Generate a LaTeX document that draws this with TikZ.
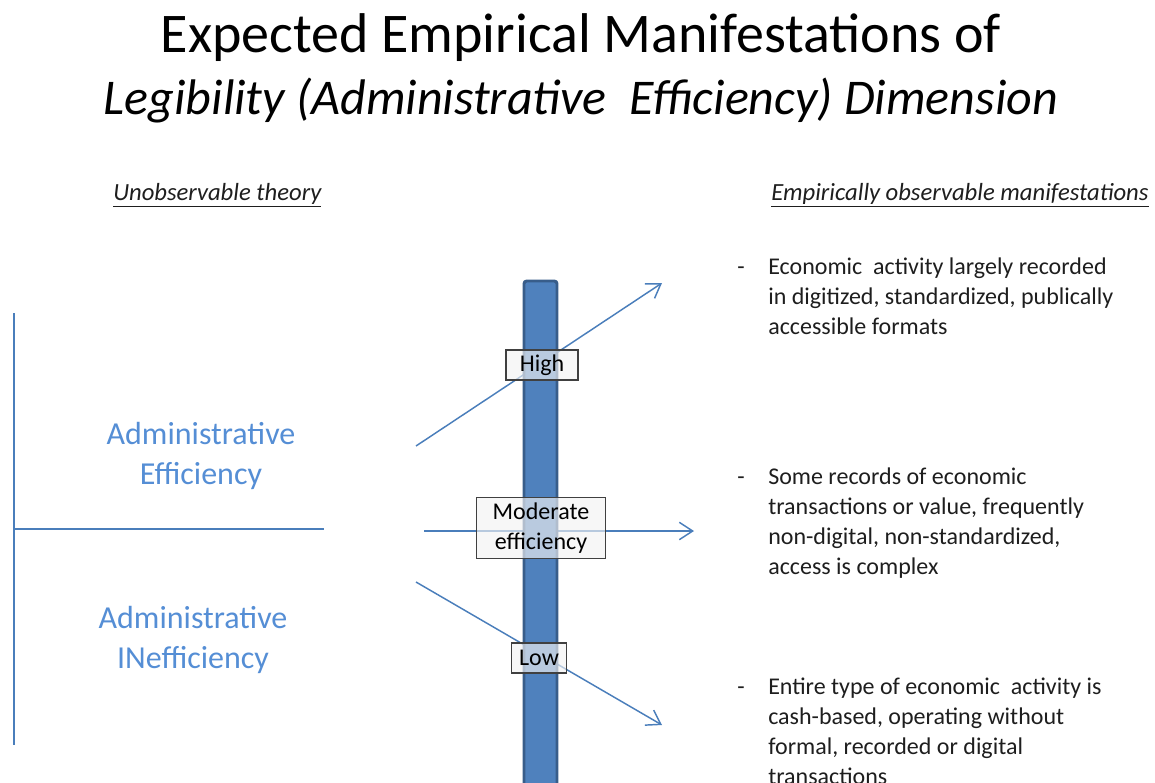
\documentclass[tikz,border=0pt]{standalone}
\usepackage{fontspec}
\setmainfont{Carlito}
\usetikzlibrary{arrows.meta}
\definecolor{lineblue}{RGB}{74,126,187}
\definecolor{txtblue}{RGB}{85,142,213}
\definecolor{barfill}{RGB}{79,129,189}
\definecolor{bardraw}{RGB}{56,93,138}
\definecolor{boxfill}{RGB}{242,242,242}
\definecolor{txtdark}{RGB}{30,30,30}

\begin{document}
\begin{tikzpicture}[x=0.75pt,y=0.75pt,yscale=-1,xscale=1,
  conn/.style={draw=lineblue,line width=1.1pt},
  arr/.style={conn,-{Straight Barb[length=10pt,width=13pt,line width=1.1pt]}},
  lvl/.style={draw=black!75,line width=1.1pt,fill=boxfill,fill opacity=0.65,text opacity=1,
    inner sep=0pt,minimum height=22.5pt,align=center,font=\fontsize{18}{22.5}\selectfont},
  manif/.style={anchor=base west,inner sep=0pt,align=left,text=txtdark,font=\fontsize{18}{22.5}\selectfont},
  theo/.style={text=txtblue,align=center,inner sep=0pt,font=\fontsize{24}{30}\selectfont},
  head/.style={anchor=west,inner sep=0pt,text=txtdark,font=\fontsize{18.5}{22.5}\selectfont\itshape}]
%set diagram size to 1155 x 782
\useasboundingbox (0,0) rectangle (1155,782);
\clip (0,0) rectangle (1155,782);

% Title
\node (title1) at (581,38) [inner sep=0pt,font=\fontsize{42}{50}\selectfont] {Expected Empirical Manifestations of};
\node (title2) at (581,101) [inner sep=0pt,font=\fontsize{37.5}{45}\selectfont\itshape] {Legibility (Administrative\ \ Efficiency) Dimension};

% Text Node
\node (unobs) at (113,195) [head] {\underline{Unobservable theory}};
% Text Node
\node (obs) at (771,195) [head] {\underline{Empirically observable manifestations}};

%Straight Lines
\coordinate (vtop) at (14,313);
\coordinate (vbot) at (14,745);
\coordinate (hleft) at (14,529);
\coordinate (hright) at (324,529);
\draw [conn] (vtop) -- (vbot);
\draw [conn] (hleft) -- (hright);

% Text Node
\node (eff) at (201,456) [theo] {Administrative\\Efficiency};
% Text Node
\node (ineff) at (193,640) [theo] {Administrative\\INefficiency};

%Arrows
\coordinate (hiS) at (416,446);
\coordinate (hiE) at (662,283);
\coordinate (moS) at (424,531);
\coordinate (moE) at (694,531);
\coordinate (loS) at (416,582);
\coordinate (loE) at (662,725);
\draw [arr] (hiS) -- (hiE);
\draw [arr] (moS) -- (moE);
\draw [arr] (loS) -- (loE);

%Shape: Bar
\draw [fill=barfill,draw=bardraw,line width=2.2pt,rounded corners=2pt] (524,281) rectangle (557,800);

% Level boxes
\node (high) at (542,365) [lvl,minimum width=54pt] {High};
\node (moder) at (541,528) [lvl,minimum width=97pt,minimum height=46pt] {Moderate\\efficiency};
\node (low) at (539,658) [lvl,minimum width=41pt] {Low};

% Text Node (base = last line)
\node (dash1) at (737,274) [manif] {-};
\node (txt1) at (768,334) [manif] {Economic\ \ activity largely recorded\\in digitized, standardized, publically\\accessible formats};
% Text Node
\node (dash2) at (737,484) [manif] {-};
\node (txt2) at (768,574) [manif] {Some records of economic\\transactions or value, frequently\\non-digital, non-standardized,\\access is complex};
% Text Node
\node (dash3) at (737,694) [manif] {-};
\node (txt3) at (768,784) [manif] {Entire type of economic\ \ activity is\\cash-based, operating without\\formal, recorded or digital\\transactions};

\end{tikzpicture}
\end{document}
